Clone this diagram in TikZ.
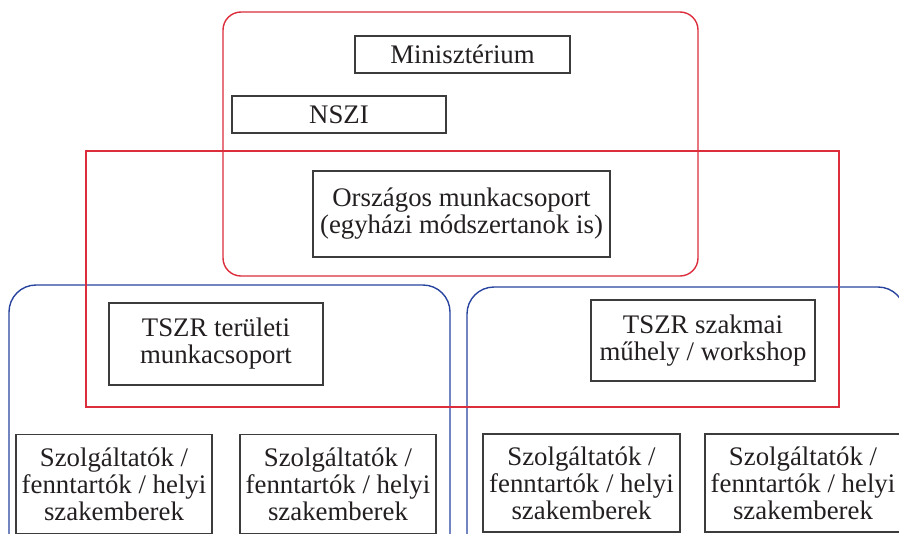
\documentclass[tikz,border=0pt]{standalone}
\usepackage{fontspec}
\setmainfont{Liberation Serif}
\begin{document}
\definecolor{grpred}{RGB}{220,45,60}
\definecolor{grpblue}{RGB}{40,68,158}
\definecolor{boxline}{RGB}{60,60,60}
\definecolor{ink}{RGB}{35,31,32}
\tikzset{
  redgroup/.style={draw=grpred, line width=1.4pt},
  bluegroup/.style={draw=grpblue, line width=1.4pt},
  unit/.style={draw=boxline, line width=1.2pt, rectangle, inner sep=0pt,
    align=center, text=ink, font=\fontsize{26.8}{27}\selectfont},
}
\begin{tikzpicture}[x=1pt,y=-1pt]
\useasboundingbox (0,0) rectangle (899,533);
\clip (0,0) rectangle (899,533);

% group frames
\draw[bluegroup, rounded corners=27pt] (9,285) rectangle (450,580);
\draw[bluegroup, rounded corners=27pt] (467,287) rectangle (905,580);
\draw[redgroup, rounded corners=18pt] (223,12) rectangle (698,276);
\draw[redgroup] (86,151) rectangle (839,407);

% units
\node[unit, minimum width=215pt, minimum height=37pt] (min) at (462.5,54.5) {Minisztérium};
\node[unit, minimum width=214pt, minimum height=37pt] (nszi) at (339,114.5) {NSZI};
\node[unit, minimum width=297pt, minimum height=86pt] (orsz) at (461.5,214) {Országos munkacsoport\\(egyházi módszertanok is)};
\node[unit, minimum width=214pt, minimum height=82pt] (terul) at (216,344) {TSZR területi\\munkacsoport};
\node[unit, minimum width=224pt, minimum height=81pt] (szakm) at (703,340.5) {TSZR szakmai\\műhely / workshop};
\node[unit, minimum width=196pt, minimum height=99pt] (sz1) at (114,484) {Szolgáltatók /\\fenntartók / helyi\\szakemberek};
\node[unit, minimum width=196pt, minimum height=99pt] (sz2) at (338,484) {Szolgáltatók /\\fenntartók / helyi\\szakemberek};
\node[unit, minimum width=197pt, minimum height=98pt] (sz3) at (581.5,483) {Szolgáltatók /\\fenntartók / helyi\\szakemberek};
\node[unit, minimum width=196pt, minimum height=98pt] (sz4) at (803,483) {Szolgáltatók /\\fenntartók / helyi\\szakemberek};
\end{tikzpicture}
\end{document}
